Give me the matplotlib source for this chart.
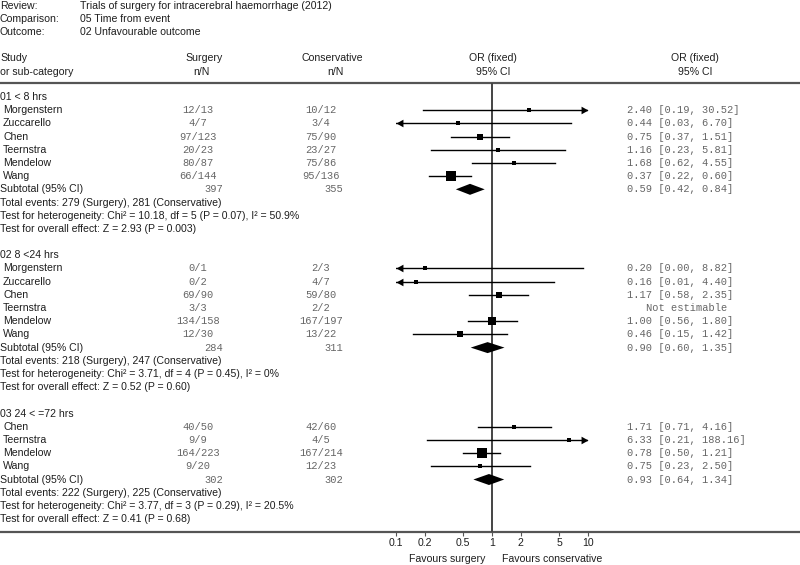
import numpy as np
import matplotlib
matplotlib.use("Agg")
import matplotlib.pyplot as plt
from matplotlib.path import Path

# ---------------- data ----------------
review = "Trials of surgery for intracerebral haemorrhage (2012)"
comparison = "05 Time from event"
outcome = "02 Unfavourable outcome"

group_names = ["01 < 8 hrs", "02 8 <24 hrs", "03 24 < =72 hrs"]

studies_g1 = ["Morgenstern", "Zuccarello", "Chen", "Teernstra", "Mendelow", "Wang"]
surg_ev_g1 = [12, 4, 97, 20, 80, 66]
surg_n_g1 = [13, 7, 123, 23, 87, 144]
cons_ev_g1 = [10, 3, 75, 23, 75, 95]
cons_n_g1 = [12, 4, 90, 27, 86, 136]
or_g1 = [2.40, 0.44, 0.75, 1.16, 1.68, 0.37]
lo_g1 = [0.19, 0.03, 0.37, 0.23, 0.62, 0.22]
hi_g1 = [30.52, 6.70, 1.51, 5.81, 4.55, 0.60]

studies_g2 = ["Morgenstern", "Zuccarello", "Chen", "Teernstra", "Mendelow", "Wang"]
surg_ev_g2 = [0, 0, 69, 3, 134, 12]
surg_n_g2 = [1, 2, 90, 3, 158, 30]
cons_ev_g2 = [2, 4, 59, 2, 167, 13]
cons_n_g2 = [3, 7, 80, 2, 197, 22]
or_g2 = [0.20, 0.16, 1.17, None, 1.00, 0.46]
lo_g2 = [0.00, 0.01, 0.58, None, 0.56, 0.15]
hi_g2 = [8.82, 4.40, 2.35, None, 1.80, 1.42]

studies_g3 = ["Chen", "Teernstra", "Mendelow", "Wang"]
surg_ev_g3 = [40, 9, 164, 9]
surg_n_g3 = [50, 9, 223, 20]
cons_ev_g3 = [42, 4, 167, 12]
cons_n_g3 = [60, 5, 214, 23]
or_g3 = [1.71, 6.33, 0.78, 0.75]
lo_g3 = [0.71, 0.21, 0.50, 0.23]
hi_g3 = [4.16, 188.16, 1.21, 2.50]

sub_surg_total = [397, 284, 302]
sub_cons_total = [355, 311, 302]
sub_or = [0.59, 0.90, 0.93]
sub_lo = [0.42, 0.60, 0.64]
sub_hi = [0.84, 1.35, 1.34]
events_surg = [279, 218, 222]
events_cons = [281, 247, 225]
het_chi2 = ["10.18", "3.71", "3.77"]
het_df = [5, 4, 3]
het_p = ["0.07", "0.45", "0.29"]
het_i2 = ["50.9%", "0%", "20.5%"]
z_vals = ["2.93", "0.52", "0.41"]
z_p = ["0.003", "0.60", "0.68"]

tick_vals = [0.1, 0.2, 0.5, 1, 2, 5, 10]
tick_labels = ["0.1", "0.2", "0.5", "1", "2", "5", "10"]

groups = [
    (studies_g1, surg_ev_g1, surg_n_g1, cons_ev_g1, cons_n_g1, or_g1, lo_g1, hi_g1),
    (studies_g2, surg_ev_g2, surg_n_g2, cons_ev_g2, cons_n_g2, or_g2, lo_g2, hi_g2),
    (studies_g3, surg_ev_g3, surg_n_g3, cons_ev_g3, cons_n_g3, or_g3, lo_g3, hi_g3),
]

# ---------------- style ----------------
SANS = "Liberation Sans"
MONO = "Liberation Mono"
FS = 7.6
FSM = 7.5
TXT = "#1e1e1e"
NUM = "#666666"
W, H = 800, 565

fig = plt.figure(figsize=(8, 5.65), dpi=100)
bg = fig.add_axes([0, 0, 1, 1])
bg.set_xlim(0, W)
bg.set_ylim(H, 0)
bg.axis("off")

X_LO, X_HI = 396, 588
Y_TOP, Y_BOT = 83, 532
ax = fig.add_axes([X_LO / W, (H - Y_BOT) / H, (X_HI - X_LO) / W, (Y_BOT - Y_TOP) / H])
ax.set_xscale("log")
ax.set_xlim(tick_vals[0], tick_vals[-1])
ax.set_ylim(Y_BOT, Y_TOP)
ax.patch.set_visible(False)
for s in ax.spines.values():
    s.set_visible(False)
ax.set_yticks([])
ax.set_xticks(tick_vals)
ax.set_xticklabels(tick_labels, fontsize=7.6, fontfamily=SANS, color=TXT)
ax.xaxis.set_minor_locator(matplotlib.ticker.NullLocator())
ax.tick_params(axis="x", length=3, width=0.8, pad=1.5, color="#555555")


def stxt(x, y, s, ha="left", **kw):
    bg.text(x, y, s, ha=ha, va="center", fontsize=FS, fontfamily=SANS, color=TXT, **kw)


def mtxt(x, y, s, ha="left"):
    bg.text(x, y, s, ha=ha, va="center", fontsize=FSM, fontfamily=MONO, color=NUM)


# header
stxt(0, 6, "Review:")
stxt(80, 6, review)
stxt(0, 19, "Comparison:")
stxt(80, 19, comparison)
stxt(0, 32, "Outcome:")
stxt(80, 32, outcome)
stxt(0, 58, "Study")
stxt(0, 72, "or sub-category")
stxt(204, 58, "Surgery", ha="center")
stxt(201, 72, "n/N", ha="center")
stxt(332, 58, "Conservative", ha="center")
stxt(335, 72, "n/N", ha="center")
stxt(493, 58, "OR (fixed)", ha="center")
stxt(493, 72, "95% CI", ha="center")
stxt(695, 58, "OR (fixed)", ha="center")
stxt(695, 72, "95% CI", ha="center")

bg.plot([0, W], [Y_TOP, Y_TOP], color="#555555", lw=1.6, solid_capstyle="butt")
bg.plot([0, W], [Y_BOT, Y_BOT], color="#555555", lw=1.6, solid_capstyle="butt")
ax.axvline(1, color="#444444", lw=1.4, zorder=1)

stxt(485, 559, "Favours surgery", ha="right")
stxt(502, 559, "Favours conservative")

# arrow head markers (tip at origin)
right_tip = Path([(0, 0), (-1, 0.55), (-1, -0.55), (0, 0)], [1, 2, 2, 79])
left_tip = Path([(0, 0), (1, 0.55), (1, -0.55), (0, 0)], [1, 2, 2, 79])

Y0, DY = 97, 13.19
row = 0
xmin, xmax = tick_vals[0], tick_vals[-1]
for gi, (names, sev, sn, cev, cn, orv, lo, hi) in enumerate(groups):
    y = Y0 + DY * row
    stxt(0, y, group_names[gi])
    row += 1
    # Mantel-Haenszel weights for square sizes
    wts = []
    for k in range(len(names)):
        if orv[k] is None:
            wts.append(0.0)
        else:
            b = sn[k] - sev[k]
            c = cev[k]
            wts.append(b * c / (sn[k] + cn[k]))
    tot = sum(wts)
    for k, name in enumerate(names):
        y = Y0 + DY * row
        stxt(3, y, name)
        mtxt(198, y, f"{sev[k]}/{sn[k]}", ha="center")
        mtxt(321, y, f"{cev[k]}/{cn[k]}", ha="center")
        if orv[k] is None:
            mtxt(687, y, "Not estimable", ha="center")
        else:
            mtxt(627, y, f"{orv[k]:.2f} [{lo[k]:.2f}, {hi[k]:.2f}]")
            l = max(lo[k], xmin)
            h = min(hi[k], xmax)
            ax.plot([l, h], [y, y], color="black", lw=1.0, zorder=2)
            if hi[k] > xmax:
                ax.plot([xmax], [y], marker=right_tip, ms=10, color="black",
                        mew=0, clip_on=False, zorder=3)
            if lo[k] < xmin:
                ax.plot([xmin], [y], marker=left_tip, ms=10, color="black",
                        mew=0, clip_on=False, zorder=3)
            pct = 100 * wts[k] / tot
            side_px = max(4.2, 1.2 * np.sqrt(pct))
            ax.plot([orv[k]], [y], marker="s", ms=side_px * 0.72, color="black",
                    mew=0, zorder=4)
        row += 1
    # subtotal
    y = Y0 + DY * row
    stxt(0, y, "Subtotal (95% CI)")
    mtxt(214, y, f"{sub_surg_total[gi]}", ha="center")
    mtxt(334, y, f"{sub_cons_total[gi]}", ha="center")
    mtxt(627, y, f"{sub_or[gi]:.2f} [{sub_lo[gi]:.2f}, {sub_hi[gi]:.2f}]")
    hd = 5.5
    ax.fill([sub_lo[gi], sub_or[gi], sub_hi[gi], sub_or[gi]],
            [y, y - hd, y, y + hd], color="black", lw=0, zorder=4)
    row += 1
    y = Y0 + DY * row
    stxt(0, y, f"Total events: {events_surg[gi]} (Surgery), {events_cons[gi]} (Conservative)")
    row += 1
    y = Y0 + DY * row
    stxt(0, y, f"Test for heterogeneity: Chi\u00b2 = {het_chi2[gi]}, df = {het_df[gi]} "
               f"(P = {het_p[gi]}), I\u00b2 = {het_i2[gi]}")
    row += 1
    y = Y0 + DY * row
    stxt(0, y, f"Test for overall effect: Z = {z_vals[gi]} (P = {z_p[gi]})")
    row += 2

fig.savefig("out.png", dpi=100)
